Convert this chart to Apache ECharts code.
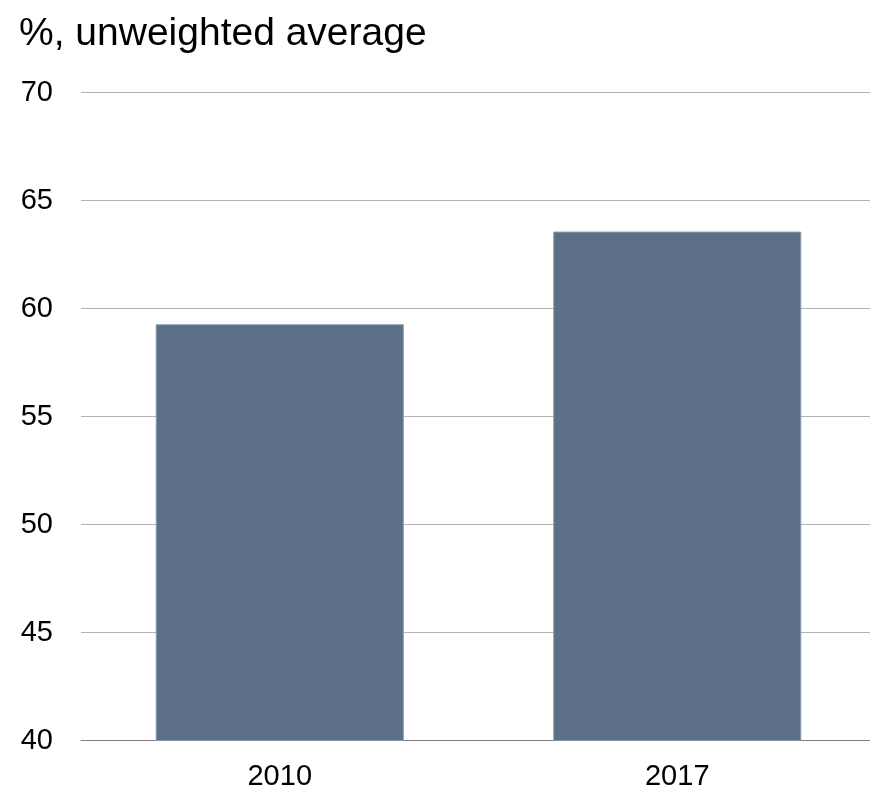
<!DOCTYPE html>
<html>
<head>
<meta charset="utf-8">
<script src="https://cdn.jsdelivr.net/npm/echarts@6/dist/echarts.min.js"></script>
<style>
html,body{margin:0;padding:0;background:#fff;}
#chart{width:870px;height:789px;}
</style>
</head>
<body>
<div id="chart"></div>
<script>
var titleText = '%, unweighted average';
var categories = ['2010', '2017'];
var values = [59.27, 63.56];
var yTicks = { min: 40, max: 70, interval: 5 };

var chart = echarts.init(document.getElementById('chart'), null, { renderer: 'canvas' });
chart.setOption({
  animation: false,
  backgroundColor: '#ffffff',
  title: {
    text: titleText,
    left: 14,
    top: 10,
    textStyle: { fontFamily: 'Liberation Sans, Arial, sans-serif', fontSize: 39, fontWeight: 'normal', color: '#000' }
  },
  grid: { left: 81, width: 795, top: 92.5, bottom: 48.5, containLabel: false, outerBoundsMode: 'none' },
  xAxis: {
    type: 'category',
    data: categories,
    axisLine: { show: true, lineStyle: { color: '#808080', width: 1 } },
    axisTick: { show: false },
    axisLabel: { margin: 22, fontFamily: 'Liberation Sans, Arial, sans-serif', fontSize: 29, color: '#000' }
  },
  yAxis: {
    type: 'value',
    min: yTicks.min,
    max: yTicks.max,
    interval: yTicks.interval,
    axisLine: { show: false },
    axisTick: { show: false },
    splitLine: { show: true, lineStyle: { color: '#b3b3b3', width: 1 } },
    axisLabel: { margin: 28, fontFamily: 'Liberation Sans, Arial, sans-serif', fontSize: 29, color: '#000' }
  },
  series: [{
    type: 'bar',
    data: values,
    barWidth: 248,
    itemStyle: { color: '#5b7086', borderColor: '#8797aa', borderWidth: 1 }
  }]
});
</script>
</body>
</html>
